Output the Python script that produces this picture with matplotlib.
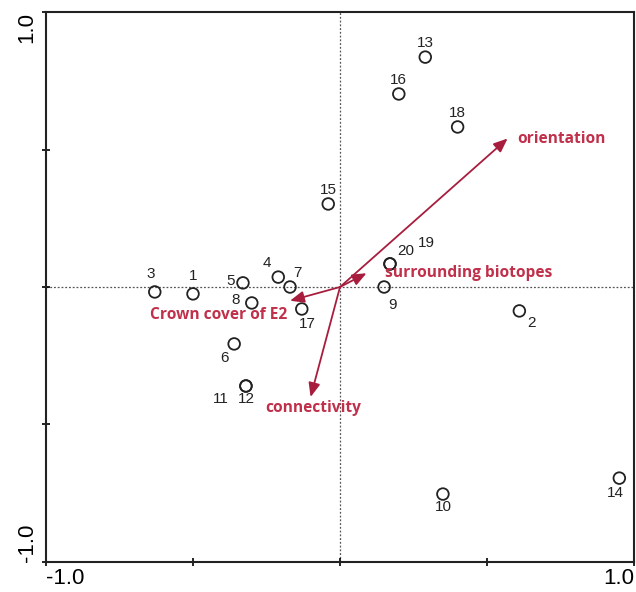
import matplotlib.pyplot as plt

# Site scores (sample number, axis 1, axis 2)
site_ids = ['1', '2', '3', '4', '5', '6', '7', '8', '9', '10',
            '11', '12', '13', '14', '15', '16', '17', '18', '19', '20']
site_x = [-0.50, 0.61, -0.63, -0.21, -0.33, -0.36, -0.17, -0.30, 0.15, 0.35,
          -0.32, -0.32, 0.29, 0.95, -0.04, 0.20, -0.13, 0.40, 0.17, 0.17]
site_y = [-0.025, -0.087, -0.018, 0.036, 0.015, -0.207, 0.0, -0.058, 0.0, -0.753,
          -0.36, -0.36, 0.836, -0.695, 0.302, 0.702, -0.08, 0.582, 0.084, 0.084]

# Environmental variable vectors
env_names = ['orientation', 'surrounding biotopes', 'Crown cover of E2', 'connectivity']
env_x = [0.57, 0.09, -0.17, -0.10]
env_y = [0.54, 0.05, -0.05, -0.40]

# label offsets in points (dx, dy) and alignment for each site number
label_pos = {
    '1': (0, 8, 'center', 'bottom'), '2': (6, -4, 'left', 'top'),
    '3': (-3, 8, 'center', 'bottom'), '4': (-8, 5, 'center', 'bottom'),
    '5': (-6, 1, 'right', 'center'), '6': (-7, -5, 'center', 'top'),
    '7': (5, 5, 'center', 'bottom'), '8': (-12, 2, 'center', 'center'),
    '9': (6, -8, 'center', 'top'), '10': (0, -4, 'center', 'top'),
    '11': (-18, -4, 'center', 'top'), '12': (0, -4, 'center', 'top'),
    '13': (0, 5, 'center', 'bottom'), '14': (-3, -6, 'center', 'top'),
    '15': (0, 5, 'center', 'bottom'), '16': (0, 5, 'center', 'bottom'),
    '17': (4, -6, 'center', 'top'), '18': (0, 5, 'center', 'bottom'),
    '19': (26, 10, 'center', 'bottom'), '20': (11, 4, 'center', 'bottom'),
}

env_pos = {
    'orientation': (7, 0, 'left', 'center'),
    'surrounding biotopes': (13, 0, 'left', 'center'),
    'Crown cover of E2': (-2, -10, 'right', 'center'),
    'connectivity': (2, -8, 'center', 'center'),
}

arrow_col = '#a81d3d'
text_col = '#c0304a'

fig = plt.figure(figsize=(6.36, 5.92), dpi=100)
ax = fig.add_axes([0.0723, 0.0507, 0.9246, 0.929])
ax.set_xlim(-1, 1)
ax.set_ylim(-1, 1)

ax.axhline(0, color='#555555', lw=0.9, ls=(0, (1.5, 1.5)), zorder=1)
ax.axvline(0, color='#555555', lw=0.9, ls=(0, (1.5, 1.5)), zorder=1)

ax.scatter(site_x, site_y, s=70, facecolors='none', edgecolors='#222222', linewidths=1.3, zorder=3)
for name, x, y in zip(site_ids, site_x, site_y):
    dx, dy, ha, va = label_pos[name]
    ax.annotate(name, (x, y), xytext=(dx, dy), textcoords='offset points',
                ha=ha, va=va, fontsize=11, family='Liberation Sans', color='#222222')

for name, x, y in zip(env_names, env_x, env_y):
    ax.annotate('', xy=(x, y), xytext=(0, 0),
                arrowprops=dict(arrowstyle='-|>,head_length=0.6,head_width=0.25',
                                color=arrow_col, lw=1.3,
                                mutation_scale=14, shrinkA=0, shrinkB=0), zorder=4)
    dx, dy, ha, va = env_pos[name]
    ax.annotate(name, (x, y), xytext=(dx, dy), textcoords='offset points',
                ha=ha, va=va, fontsize=11.2, fontweight='bold', family='Open Sans',
                color=text_col, zorder=5)

ax.set_xticks([-1, -0.5, 0, 0.5, 1])
ax.set_yticks([-1, -0.5, 0, 0.5, 1])
ax.set_xticklabels(['-1.0', '', '', '', '1.0'], fontsize=16, family='Liberation Sans')
ax.set_yticklabels(['-1.0', '', '', '', '1.0'], fontsize=16, family='Liberation Sans',
                   rotation=90, va='center')
ax.get_xticklabels()[0].set_ha('left')
ax.get_xticklabels()[-1].set_ha('right')
ax.get_yticklabels()[0].set_va('bottom')
ax.get_yticklabels()[-1].set_va('top')
ax.tick_params(direction='inout', length=6, width=1.2)
ax.tick_params(axis='x', pad=1)
ax.tick_params(axis='y', pad=3)
for s in ax.spines.values():
    s.set_linewidth(1.5)
    s.set_color('#222222')

fig.savefig('out.png', dpi=100)
